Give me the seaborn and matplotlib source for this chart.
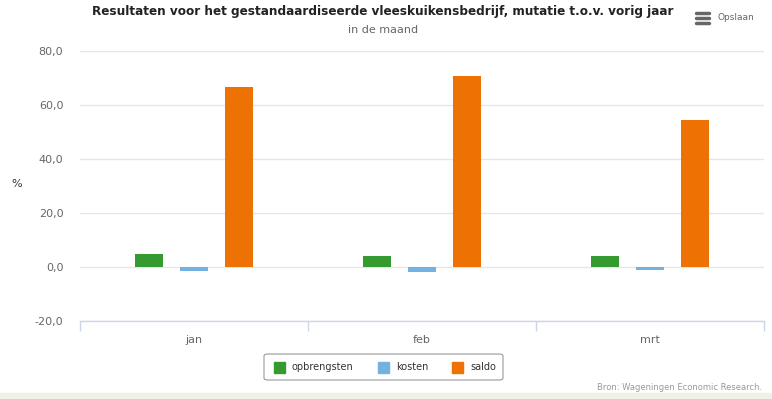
import matplotlib
matplotlib.use("Agg")
import matplotlib.pyplot as plt
import seaborn as sns
import pandas as pd
from matplotlib.patches import Rectangle, FancyBboxPatch
from matplotlib.lines import Line2D
from matplotlib.ticker import FixedLocator, FuncFormatter

months = ["jan", "feb", "mrt"]
series = ["opbrengsten", "kosten", "saldo"]
opbrengsten = [4.8, 4.1, 4.1]
kosten = [-1.4, -1.8, -1.0]
saldo = [66.5, 70.8, 54.4]
colors = ["#359a2f", "#73b1e0", "#ee7203"]
y_ticks = [-20, 0, 20, 40, 60, 80]

rows = []
for name, vals in zip(series, [opbrengsten, kosten, saldo]):
    for m, v in zip(months, vals):
        rows.append({"maand": m, "reeks": name, "waarde": v})
df = pd.DataFrame(rows)

sns.set_theme(style="white")
plt.rcParams["font.family"] = ["DejaVu Sans"]

fig = plt.figure(figsize=(7.72, 3.99), dpi=100)
ax = fig.add_axes([80/772, 1-321/399, (764-80)/772, (321-51)/399])

sns.barplot(data=df, x="maand", y="waarde", hue="reeks", order=months,
            hue_order=series, palette=colors, width=0.592, gap=0.38,
            saturation=1, ax=ax, legend=False, linewidth=0)

ax.set_ylim(-20, 80)
ax.set_xlim(-0.5, 2.5)
ax.yaxis.set_major_locator(FixedLocator(y_ticks))
ax.yaxis.set_major_formatter(FuncFormatter(lambda v, p: f"{v:.1f}".replace(".", ",")))
ax.grid(axis="y", color="#e6e6e6", linewidth=1)
ax.set_axisbelow(True)
for s in ["top", "right", "left"]:
    ax.spines[s].set_visible(False)
ax.spines["bottom"].set_color("#ccd6eb")
ax.spines["bottom"].set_linewidth(1)
ax.tick_params(axis="y", length=0, labelsize=8, labelcolor="#666666", pad=12)
ax.tick_params(axis="x", which="major", length=0, labelsize=8, labelcolor="#666666", pad=10)
ax.xaxis.set_minor_locator(FixedLocator([-0.5, 0.5, 1.5, 2.5]))
ax.tick_params(axis="x", which="minor", bottom=True, length=7.5, color="#ccd6eb",
               width=1, direction="out")
ax.set_xlabel("")
ax.set_ylabel("%", rotation=0, fontsize=8, color="#333333", labelpad=0)
ax.yaxis.set_label_coords(-0.093, 0.49)

fig.text(383/772, 1-11/399, "Resultaten voor het gestandaardiseerde vleeskuikensbedrijf, mutatie t.o.v. vorig jaar",
         ha="center", va="center", fontsize=9.6, fontweight="bold", color="#222222",
         fontstretch="condensed")
fig.text(383/772, 1-30/399, "in de maand", ha="center", va="center", fontsize=8, color="#666666")

# menu icon + label
for dy in [12.5, 17.5, 22.5]:
    fig.lines.append(Line2D([696/772, 709/772], [1-dy/399, 1-dy/399],
                            transform=fig.transFigure, color="#666666",
                            linewidth=2.5, solid_capstyle="round"))
fig.text(717/772, 1-17/399, "Opslaan", ha="left", va="center", fontsize=6.5, color="#666666")

# legend box
fig.patches.append(FancyBboxPatch((264/772, 1-380/399), 239/772, 26/399,
                                  boxstyle="round,pad=0,rounding_size=0.005",
                                  transform=fig.transFigure, facecolor="white",
                                  edgecolor="#999999", linewidth=0.8))
leg_items = [(274, "opbrengsten"), (378, "kosten"), (452, "saldo")]
for (x, name), c in zip(leg_items, colors):
    fig.patches.append(Rectangle((x/772, 1-373/399), 11/772, 11/399,
                                 transform=fig.transFigure, color=c))
    fig.text((x+18)/772, 1-367/399, name, ha="left", va="center", fontsize=7, color="#333333")

fig.text(762/772, 1-387/399, "Bron: Wageningen Economic Research.", ha="right", va="center",
         fontsize=6, color="#999999")

fig.patches.append(Rectangle((0, 0), 1, 6/399, transform=fig.transFigure, color="#f0f0e6"))

fig.savefig("out.png", dpi=100)
